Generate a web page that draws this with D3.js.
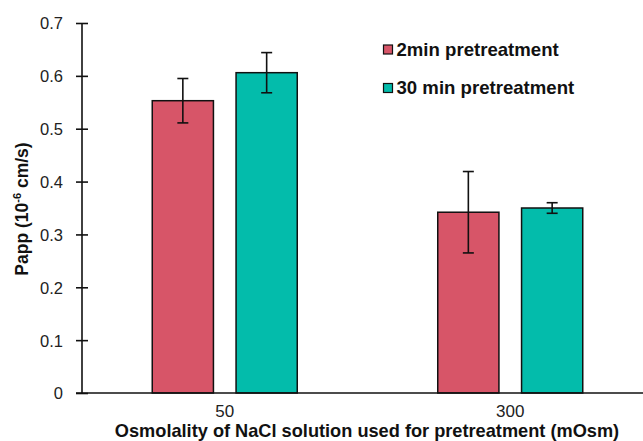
<!DOCTYPE html>
<html><head><meta charset="utf-8">
<script src="https://cdn.jsdelivr.net/npm/d3@7"></script>
<style>body{margin:0;background:#fff}svg{display:block}text{font-family:"Liberation Sans",Arial,sans-serif}</style>
</head><body>
<svg id="c" width="643" height="441"></svg>
<script>
const categories = ["50", "300"];
const seriesNames = ["2min pretreatment", "30 min pretreatment"];
const values2min = [0.553, 0.342];
const values30min = [0.606, 0.350];
const err2min = [0.042, 0.077];
const err30min = [0.038, 0.010];
const yTicks = [0, 0.1, 0.2, 0.3, 0.4, 0.5, 0.6, 0.7];
const colors = ["#d75568", "#03bcab"];

const svg = d3.select("#c");
const x0 = 82, yBottom = 393, yTop = 23;
const x = d3.scaleBand().domain(categories).range([x0, 653]).paddingInner(0).paddingOuter(0);
const xs = d3.scaleBand().domain([0, 1]).range([0, 145]).paddingInner(0.27);
const y = d3.scaleLinear().domain([0, 0.7]).range([yBottom, yTop]);

const series = [values2min, values30min];
const errs = [err2min, err30min];

// bars
series.forEach((vals, s) => {
  categories.forEach((c, i) => {
    const bx = x(c) + (x.bandwidth() - 145) / 2 + xs(s);
    svg.append("rect")
      .attr("x", bx).attr("y", y(vals[i]))
      .attr("width", xs.bandwidth()).attr("height", y(0) - y(vals[i]))
      .attr("fill", colors[s]).attr("stroke", "#111").attr("stroke-width", 1.5);
    const cx = bx + xs.bandwidth() / 2;
    const hi = y(vals[i] + errs[s][i]), lo = y(vals[i] - errs[s][i]);
    const g = svg.append("g").attr("stroke", "#111").attr("stroke-width", 1.6);
    g.append("line").attr("x1", cx).attr("x2", cx).attr("y1", hi).attr("y2", lo);
    g.append("line").attr("x1", cx - 5.5).attr("x2", cx + 5.5).attr("y1", hi).attr("y2", hi);
    g.append("line").attr("x1", cx - 5.5).attr("x2", cx + 5.5).attr("y1", lo).attr("y2", lo);
  });
});

// y axis
const yAxis = d3.axisLeft(y).tickValues(yTicks).tickFormat(d => d === 0 ? "0" : d3.format(".1f")(d)).tickSize(0).tickPadding(0);
const ga = svg.append("g").attr("transform", `translate(${x0},0)`).call(yAxis);
ga.select(".domain").remove();
ga.selectAll(".tick text").attr("x", -19).attr("dy", "0.36em").attr("font-size", 16.5).attr("fill", "#222").attr("font-family", '"Liberation Sans",Arial,sans-serif');
ga.selectAll(".tick").append("line").attr("x1", -6).attr("x2", 6).attr("stroke", "#111").attr("stroke-width", 1.6);
svg.append("line").attr("x1", x0).attr("x2", x0).attr("y1", y(0.7)).attr("y2", y(0)).attr("stroke", "#111").attr("stroke-width", 1.6);

// x axis
const xAxis = d3.axisBottom(x).tickSize(0).tickPadding(0);
const gx = svg.append("g").attr("transform", `translate(0,${yBottom})`).call(xAxis);
gx.select(".domain").remove();
gx.selectAll(".tick text").attr("y", 23.7).attr("dy", 0).attr("font-size", 17).attr("fill", "#222").attr("font-family", '"Liberation Sans",Arial,sans-serif');
svg.append("line").attr("x1", x0 - 6).attr("x2", 643).attr("y1", yBottom).attr("y2", yBottom).attr("stroke", "#111").attr("stroke-width", 1.6);

// axis titles
svg.append("text").attr("x", 367).attr("y", 437).attr("text-anchor", "middle")
  .attr("font-size", 18.2).attr("font-weight", "bold").attr("fill", "#111")
  .text("Osmolality of NaCl solution used for pretreatment (mOsm)");
const yt = svg.append("text").attr("transform", "translate(28,209) rotate(-90)").attr("text-anchor", "middle")
  .attr("font-size", 17.5).attr("font-weight", "bold").attr("fill", "#111");
yt.append("tspan").text("Papp (10");
yt.append("tspan").attr("dy", -7).attr("font-size", 11).text("-6");
yt.append("tspan").attr("dy", 7).text(" cm/s)");

// legend
seriesNames.forEach((n, i) => {
  const ly = 45 + i * 38.5;
  svg.append("rect").attr("x", 383.5).attr("y", ly).attr("width", 9).attr("height", 9)
    .attr("fill", colors[i]).attr("stroke", "#111").attr("stroke-width", 1.2);
  svg.append("text").attr("x", 396.5).attr("y", ly + 10.5).attr("font-size", 18.6).attr("font-weight", "bold").attr("fill", "#111").text(n);
});
</script>
</body></html>
